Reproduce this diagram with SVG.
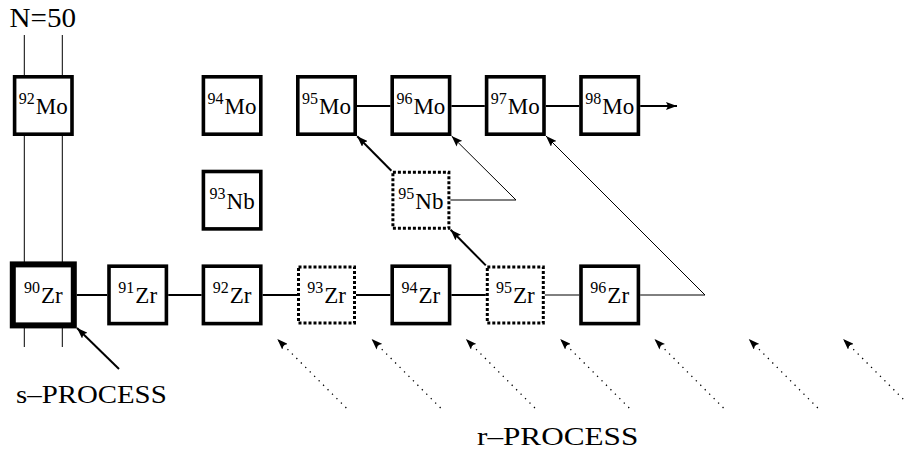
<svg xmlns="http://www.w3.org/2000/svg" width="904" height="450" viewBox="0 0 904 450">
<style>
text{font-family:"Liberation Serif","DejaVu Serif",serif;fill:#000}
.lab{font-size:23px;text-anchor:middle}
.sup{font-size:16px}
.box{fill:#fff;stroke:#000;stroke-width:3.6}
.dot{fill:#fff;stroke:#000;stroke-width:3;stroke-dasharray:3 2}
.heavy{fill:#fff;stroke:#000;stroke-width:6}
.thick{stroke:#000;stroke-width:2;fill:none}
.thin{stroke:#000;stroke-width:1;fill:none}
.dotted{stroke:#000;stroke-width:1.3;stroke-dasharray:1.3 5;fill:none}
.big{font-size:26px}
</style>
<defs>
<marker id="ah" viewBox="0 0 11 8" refX="11" refY="4" markerWidth="11" markerHeight="8" markerUnits="userSpaceOnUse" orient="auto">
<path d="M0,0 L11,4 L0,8 L2,4 z" fill="#000"/>
</marker>
</defs>
<g id="guides">
<line class="thin" x1="24.3" y1="35" x2="24.3" y2="347"/>
<line class="thin" x1="62.3" y1="35" x2="62.3" y2="347"/>
<text x="9.5" y="27" font-size="27" textLength="66.5" lengthAdjust="spacingAndGlyphs">N=50</text>
</g>
<g id="nodes">
<g id="Mo92"><rect class="box" x="14.6" y="76.8" width="57.4" height="57.4"/><text class="lab" x="43.3" y="113.5"><tspan class="sup" dy="-10">92</tspan><tspan dx="1" dy="10">Mo</tspan></text></g>
<g id="Mo94"><rect class="box" x="203.4" y="76.8" width="57.4" height="57.4"/><text class="lab" x="232.1" y="113.5"><tspan class="sup" dy="-10">94</tspan><tspan dx="1" dy="10">Mo</tspan></text></g>
<g id="Mo95"><rect class="box" x="297.8" y="76.8" width="57.4" height="57.4"/><text class="lab" x="326.5" y="113.5"><tspan class="sup" dy="-10">95</tspan><tspan dx="1" dy="10">Mo</tspan></text></g>
<g id="Mo96"><rect class="box" x="392.2" y="76.8" width="57.4" height="57.4"/><text class="lab" x="420.9" y="113.5"><tspan class="sup" dy="-10">96</tspan><tspan dx="1" dy="10">Mo</tspan></text></g>
<g id="Mo97"><rect class="box" x="486.6" y="76.8" width="57.4" height="57.4"/><text class="lab" x="515.3" y="113.5"><tspan class="sup" dy="-10">97</tspan><tspan dx="1" dy="10">Mo</tspan></text></g>
<g id="Mo98"><rect class="box" x="581" y="76.8" width="57.4" height="57.4"/><text class="lab" x="609.7" y="113.5"><tspan class="sup" dy="-10">98</tspan><tspan dx="1" dy="10">Mo</tspan></text></g>
<g id="Nb93"><rect class="box" x="203.4" y="171.5" width="57.4" height="57.4"/><text class="lab" x="232.1" y="208.5"><tspan class="sup" dy="-10">93</tspan><tspan dx="1" dy="10">Nb</tspan></text></g>
<g id="Nb95"><rect class="dot" x="392.9" y="172.2" width="56" height="56"/><text class="lab" x="420.9" y="208.5"><tspan class="sup" dy="-10">95</tspan><tspan dx="1" dy="10">Nb</tspan></text></g>
<g id="Zr90"><rect class="heavy" x="12.8" y="264.4" width="61" height="61"/><text class="lab" x="43.3" y="303.2"><tspan class="sup" dy="-10">90</tspan><tspan dx="1" dy="10">Zr</tspan></text></g>
<g id="Zr91"><rect class="box" x="109" y="266.2" width="57.4" height="57.4"/><text class="lab" x="137.7" y="303.2"><tspan class="sup" dy="-10">91</tspan><tspan dx="1" dy="10">Zr</tspan></text></g>
<g id="Zr92"><rect class="box" x="203.4" y="266.2" width="57.4" height="57.4"/><text class="lab" x="232.1" y="303.2"><tspan class="sup" dy="-10">92</tspan><tspan dx="1" dy="10">Zr</tspan></text></g>
<g id="Zr93"><rect class="dot" x="298.5" y="266.9" width="56" height="56"/><text class="lab" x="326.5" y="303.2"><tspan class="sup" dy="-10">93</tspan><tspan dx="1" dy="10">Zr</tspan></text></g>
<g id="Zr94"><rect class="box" x="392.2" y="266.2" width="57.4" height="57.4"/><text class="lab" x="420.9" y="303.2"><tspan class="sup" dy="-10">94</tspan><tspan dx="1" dy="10">Zr</tspan></text></g>
<g id="Zr95"><rect class="dot" x="487.3" y="266.9" width="56" height="56"/><text class="lab" x="515.3" y="303.2"><tspan class="sup" dy="-10">95</tspan><tspan dx="1" dy="10">Zr</tspan></text></g>
<g id="Zr96"><rect class="box" x="581" y="266.2" width="57.4" height="57.4"/><text class="lab" x="609.7" y="303.2"><tspan class="sup" dy="-10">96</tspan><tspan dx="1" dy="10">Zr</tspan></text></g>
</g>
<g id="connectors">
<line class="thick" x1="76.8" y1="295" x2="107.2" y2="295"/>
<line class="thick" x1="168.2" y1="295" x2="201.6" y2="295"/>
<line class="thick" x1="262.6" y1="295" x2="297" y2="295"/>
<line class="thick" x1="356" y1="295" x2="390.4" y2="295"/>
<line class="thick" x1="451.4" y1="295" x2="485.8" y2="295"/>
<line class="thin" x1="544.8" y1="295" x2="579.2" y2="295"/>
<polyline class="thin" points="640.2,295 705,295 546,136" marker-end="url(#ah)"/>
<line class="thick" x1="357" y1="106" x2="390.4" y2="106"/>
<line class="thick" x1="451.4" y1="106" x2="484.8" y2="106"/>
<line class="thick" x1="545.8" y1="106" x2="579.2" y2="106"/>
<line class="thick" x1="640.2" y1="106" x2="677" y2="106" marker-end="url(#ah)"/>
<polyline class="thin" points="450.4,200 516,200 451.6,136" marker-end="url(#ah)"/>
<line class="thick" x1="391.4" y1="170.7" x2="357.2" y2="136.2" marker-end="url(#ah)"/>
<line class="thick" x1="485.8" y1="265.4" x2="450.6" y2="229.8" marker-end="url(#ah)"/>
<line class="thick" x1="119" y1="369" x2="77" y2="328" marker-end="url(#ah)"/>
<line class="dotted" x1="346.3" y1="408" x2="277.3" y2="339" marker-end="url(#ah)"/>
<line class="dotted" x1="440.6" y1="408" x2="371.6" y2="339" marker-end="url(#ah)"/>
<line class="dotted" x1="534.9" y1="408" x2="465.9" y2="339" marker-end="url(#ah)"/>
<line class="dotted" x1="629.2" y1="408" x2="560.2" y2="339" marker-end="url(#ah)"/>
<line class="dotted" x1="723.5" y1="408" x2="654.5" y2="339" marker-end="url(#ah)"/>
<line class="dotted" x1="817.8" y1="408" x2="748.8" y2="339" marker-end="url(#ah)"/>
<line class="dotted" x1="912.1" y1="408" x2="843.1" y2="339" marker-end="url(#ah)"/>
</g>
<g id="labels">
<text class="big" x="16" y="403.3" textLength="150.7" lengthAdjust="spacingAndGlyphs">s–PROCESS</text>
<text class="big" x="477" y="445" textLength="161.3" lengthAdjust="spacingAndGlyphs">r–PROCESS</text>
</g>
</svg>
